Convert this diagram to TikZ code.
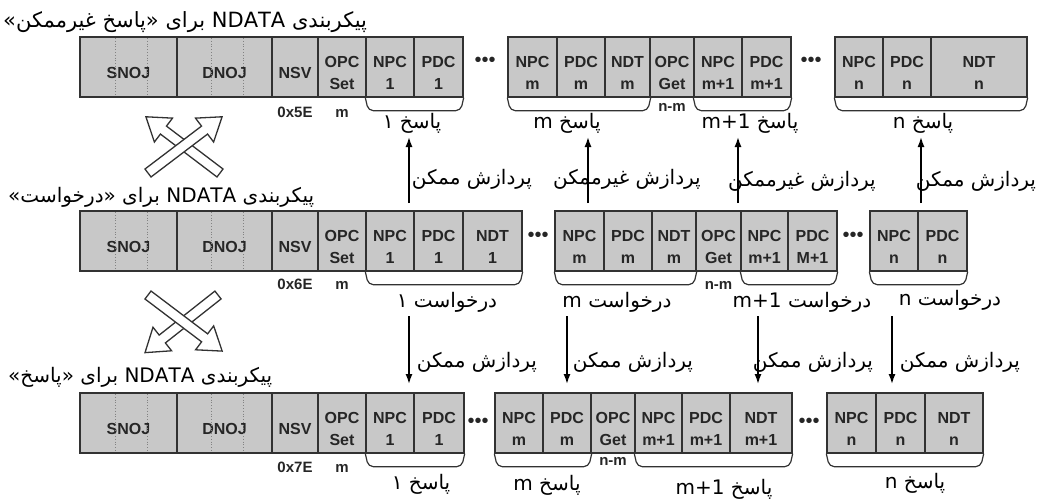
\documentclass[tikz,border=0pt]{standalone}
\usepackage{fontspec}
\setmainfont{Liberation Sans}
\newfontfamily\farsi[Script=Arabic]{DejaVu Sans}
\TeXXeTstate=1
\usetikzlibrary{arrows.meta,calc,positioning}
\definecolor{cellgray}{RGB}{200,200,200}
\definecolor{edgegray}{RGB}{50,50,50}
\definecolor{rulegray}{RGB}{130,130,130}
\newcommand{\rtl}[1]{\beginR #1\endR}
% cell: name, left x, width, top y, text (text sits a bit low in the box)
\newcommand{\cell}[5]{%
  \node[cellbox,minimum width=#3pt] (#1) at (#2+#3/2,#4+30) {};
  \node[celltext] (#1txt) at ($(#1.center)+(0,6)$) {#5};}
% rounded bracket under a run of cells
\newcommand{\brk}[2]{\draw[bracket] (#1.south west) -- ++(3,13) -- ($(#2.south east)+(-3,13)$) -- (#2.south east);}
% hollow fat arrow: tail x, tail y, angle
\newcommand{\fatarrow}[3]{\draw[hollow,shift={(#1,#2)},rotate=#3] (0,-5) -- (71,-5) -- (71,-15) -- (93,0) -- (71,15) -- (71,5) -- (0,5) -- cycle;}

\begin{document}
\begin{tikzpicture}[x=1pt,y=-1pt,
  cellbox/.style={draw=edgegray,line width=1.4pt,fill=cellgray,minimum height=60pt,inner sep=0pt},
  celltext/.style={align=center,inner sep=0pt,text=black!85,font=\fontsize{16}{21.5}\selectfont\bfseries},
  hexlab/.style={inner sep=1pt,text height=11pt,text depth=3pt,text=black!85,font=\fontsize{15}{15}\selectfont\bfseries},
  ellip/.style={inner sep=0pt,text=black!85,font=\fontsize{20}{20}\selectfont},
  farsilab/.style={inner sep=0pt,font=\fontsize{20}{20}\selectfont\farsi},
  bracket/.style={draw=edgegray,line width=1.2pt,rounded corners=5pt},
  flow/.style={line width=1.5pt,-{Latex[length=10pt,width=7pt]}},
  hollow/.style={draw=edgegray,line width=1.3pt,fill=white},
  ruling/.style={rulegray,line width=0.8pt,dotted}]
\useasboundingbox (0,0) rectangle (1041,501);

% ---- titles ----
\node[farsilab,anchor=base west,font=\fontsize{21}{21}\selectfont\farsi] (t1) at (3,27) {\rtl{پیکربندی \beginL NDATA\endL{} برای «پاسخ غیرممکن»}};
\node[farsilab,anchor=base west] (t2) at (8,202) {\rtl{پیکربندی \beginL NDATA\endL{} برای «درخواست»}};
\node[farsilab,anchor=base west] (t3) at (8,382) {\rtl{پیکربندی \beginL NDATA\endL{} برای «پاسخ»}};

% ---- frame 1 ----
\foreach \nm/\x/\w/\t in {r1snoj/80/97/SNOJ, r1dnoj/177/95/DNOJ, r1nsv/272/46/NSV, r1opc/318/48/{OPC\\Set},
  r1npc1/366/48/{NPC\\1}, r1pdc1/414/49/{PDC\\1},
  r1npcm/508/49/{NPC\\m}, r1pdcm/557/48/{PDC\\m}, r1ndtm/605/45/{NDT\\m}, r1get/650/44/{OPC\\Get},
  r1npcx/694/48/{NPC\\m+1}, r1pdcx/742/49/{PDC\\m+1},
  r1npcn/835/48/{NPC\\n}, r1pdcn/883/48/{PDC\\n}, r1ndtn/931/96/{NDT\\n}}
  {\cell{\nm}{\x}{\w}{37}{\t}}

% ---- frame 2 ----
\foreach \nm/\x/\w/\t in {r2snoj/80/97/SNOJ, r2dnoj/177/95/DNOJ, r2nsv/272/46/NSV, r2opc/318/48/{OPC\\Set},
  r2npc1/366/48/{NPC\\1}, r2pdc1/414/49/{PDC\\1}, r2ndt1/463/59/{NDT\\1},
  r2npcm/555/49/{NPC\\m}, r2pdcm/604/48/{PDC\\m}, r2ndtm/652/44/{NDT\\m}, r2get/696/45/{OPC\\Get},
  r2npcx/741/47/{NPC\\m+1}, r2pdcx/788/49/{PDC\\M+1},
  r2npcn/870/48/{NPC\\n}, r2pdcn/918/49/{PDC\\n}}
  {\cell{\nm}{\x}{\w}{211}{\t}}

% ---- frame 3 ----
\foreach \nm/\x/\w/\t in {r3snoj/80/97/SNOJ, r3dnoj/177/95/DNOJ, r3nsv/272/46/NSV, r3opc/318/48/{OPC\\Set},
  r3npc1/366/48/{NPC\\1}, r3pdc1/414/50/{PDC\\1},
  r3npcm/495/48/{NPC\\m}, r3pdcm/543/48/{PDC\\m}, r3get/591/44/{OPC\\Get},
  r3npcx/635/47/{NPC\\m+1}, r3pdcx/682/48/{PDC\\m+1}, r3ndtx/730/62/{NDT\\m+1},
  r3npcn/827/49/{NPC\\n}, r3pdcn/876/49/{PDC\\n}, r3ndtn/925/58/{NDT\\n}}
  {\cell{\nm}{\x}{\w}{393}{\t}}

% dotted rulings in SNOJ / DNOJ
\foreach \y in {37,211,393}
  \foreach \x in {115,147,211,243}
    \draw[ruling] (\x,\y+1) -- (\x,\y+59);

% gaps between frame pieces
\node[ellip] (e1) at (485,62) {•••};
\node[ellip] (e2) at (811,62) {•••};
\node[ellip] (e3) at (538,237) {•••};
\node[ellip] (e4) at (853,237) {•••};
\node[ellip] (e5) at (478,423) {•••};
\node[ellip] (e6) at (809,423) {•••};

% values under NSV / OPC
\node[hexlab,below=8pt of r1nsv] (h1) {0x5E};
\node[hexlab,below=8pt of r1opc] (o1) {m};
\node[hexlab,below=2pt of r1get] (g1) {n-m};
\node[hexlab,below=6pt of r2nsv] (h2) {0x6E};
\node[hexlab,below=6pt of r2opc] (o2) {m};
\node[hexlab,below=6pt of r2get] (g2) {n-m};
\node[hexlab,below=7pt of r3nsv] (h3) {0x7E};
\node[hexlab,below=7pt of r3opc] (o3) {m};
\node[hexlab,below=0pt of r3get] (g3) {n-m};

% brackets
\brk{r1npc1}{r1pdc1} \brk{r1npcm}{r1ndtm} \brk{r1npcx}{r1pdcx} \brk{r1npcn}{r1ndtn}
\brk{r2npc1}{r2ndt1} \brk{r2npcm}{r2ndtm} \brk{r2npcx}{r2pdcx} \brk{r2npcn}{r2pdcn}
\brk{r3npc1}{r3pdc1} \brk{r3npcm}{r3pdcm} \brk{r3npcx}{r3ndtx} \brk{r3npcn}{r3ndtn}

% group names
\node[farsilab] (p1a) at (412,123) {\rtl{پاسخ ۱}};
\node[farsilab] (p1b) at (567,123) {\rtl{پاسخ m}};
\node[farsilab] (p1c) at (750,123) {\rtl{پاسخ \beginL m+1\endL}};
\node[farsilab] (p1d) at (923,123) {\rtl{پاسخ n}};
\node[farsilab] (q1) at (447,302) {\rtl{درخواست ۱}};
\node[farsilab] (q2) at (617,302) {\rtl{درخواست m}};
\node[farsilab] (q3) at (802,302) {\rtl{درخواست \beginL m+1\endL}};
\node[farsilab] (q4) at (950,300) {\rtl{درخواست n}};
\node[farsilab] (p3a) at (421,484) {\rtl{پاسخ ۱}};
\node[farsilab] (p3b) at (547,485) {\rtl{پاسخ m}};
\node[farsilab] (p3c) at (724,489) {\rtl{پاسخ \beginL m+1\endL}};
\node[farsilab] (p3d) at (915,483) {\rtl{پاسخ n}};

% request -> response arrows
\foreach \i/\x in {1/409,2/588,3/738,4/921}{
  \coordinate (ua\i) at (\x,203);
  \coordinate (ub\i) at (\x,137);
  \draw[flow] (ua\i) -- (ub\i);}
\foreach \i/\x in {1/409,2/567,3/758,4/892}{
  \coordinate (da\i) at (\x,316);
  \coordinate (db\i) at (\x,384);
  \draw[flow] (da\i) -- (db\i);}
\node[farsilab] (u1) at (472,179) {\rtl{پردازش ممکن}};
\node[farsilab] (u2) at (627,179) {\rtl{پردازش غیرممکن}};
\node[farsilab] (u3) at (802,181) {\rtl{پردازش غیرممکن}};
\node[farsilab] (u4) at (976,181) {\rtl{پردازش ممکن}};
\node[farsilab] (d1) at (477,362) {\rtl{پردازش ممکن}};
\node[farsilab] (d2) at (633,362) {\rtl{پردازش ممکن}};
\node[farsilab] (d3) at (813,362) {\rtl{پردازش ممکن}};
\node[farsilab] (d4) at (960,362) {\rtl{پردازش ممکن}};

% crossing arrows between the frames
\fatarrow{220}{173}{142.8}
\fatarrow{148}{173}{37.2}
\fatarrow{218}{295}{218.3}
\fatarrow{148}{295}{-37.1}
\end{tikzpicture}
\end{document}
